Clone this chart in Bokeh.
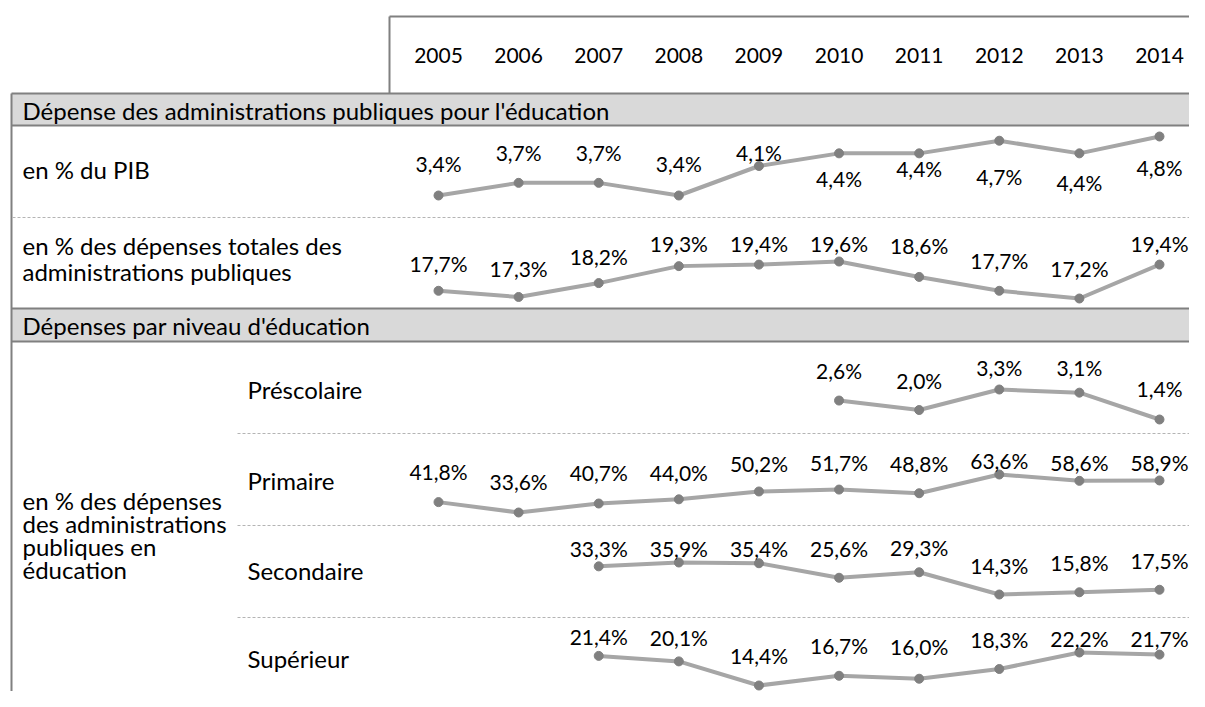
from bokeh.plotting import figure
from bokeh.models import Range1d, ColumnDataSource
from bokeh.embed import file_html
from bokeh.resources import INLINE
from bokeh.core.properties import value

# ---------------- data ----------------
years = [2005, 2006, 2007, 2008, 2009, 2010, 2011, 2012, 2013, 2014]
year_labels = [str(y) for y in years]

pib = [3.4, 3.7, 3.7, 3.4, 4.1, 4.4, 4.4, 4.7, 4.4, 4.8]
dep_totales = [17.7, 17.3, 18.2, 19.3, 19.4, 19.6, 18.6, 17.7, 17.2, 19.4]
prescolaire = [None, None, None, None, None, 2.6, 2.0, 3.3, 3.1, 1.4]
primaire = [41.8, 33.6, 40.7, 44.0, 50.2, 51.7, 48.8, 63.6, 58.6, 58.9]
secondaire = [None, None, 33.3, 35.9, 35.4, 25.6, 29.3, 14.3, 15.8, 17.5]
superieur = [None, None, 21.4, 20.1, 14.4, 16.7, 16.0, 18.3, 22.2, 21.7]

section_titles = ["Dépense des administrations publiques pour l'éducation",
                  "Dépenses par niveau d'éducation"]
row_pib = "en % du PIB"
row_tot = ["en % des dépenses totales des", "administrations publiques"]
row_niv = ["en % des dépenses", "des administrations", "publiques en", "éducation"]
level_names = ["Préscolaire", "Primaire", "Secondaire", "Supérieur"]

# ---------------- layout / style ----------------
W, H = 1189, 691
FONT = value("Lato")
FS_TXT = "24px"
FS_NUM = "21px"
LINE_C = "#a6a6a6"
DOT_C = "#808080"
BORDER_C = "#808080"
DASH_C = "#b4b4b4"
BAR_C = "#d9d9d9"

# pixel position of first and last year column
X_FIRST, X_LAST = 438, 1159

# per row: values, (y of min value, y of max value), label offsets (px, +down)
rows = [
    (pib, (195, 136), [-32, -30, -30, -32, -14, 25, 15, 36, 29, 31]),
    (dep_totales, (298, 261), [-27, -28, -27, -23, -21, -18, -31, -30, -30, -21]),
    (prescolaire, (419, 389), [0, 0, 0, 0, 0, -30, -30, -22, -25, -31]),
    (primaire, (512, 474), [-31, -31, -31, -27, -28, -27, -30, -14, -18, -18]),
    (secondaire, (594, 562), [0, 0, -18, -14, -15, -29, -25, -29, -30, -29]),
    (superieur, (685, 652), [0, 0, -19, -24, -30, -30, -32, -30, -14, -16]),
]

p = figure(width=W, height=H, output_backend="svg", toolbar_location=None,
           x_range=Range1d(0, W), y_range=Range1d(H, 0),
           min_border=0, outline_line_color=None)
p.axis.visible = False
p.grid.visible = False
p.background_fill_color = "white"
p.border_fill_color = "white"

# year scale (library range mapping the years onto the columns)
ppy = (X_LAST - X_FIRST) / (years[-1] - years[0])
ys0 = years[0] - X_FIRST / ppy
p.extra_x_ranges = {"yr": Range1d(ys0, ys0 + W / ppy)}

# ---------------- table frame ----------------
RIGHT = W
LEFT = 11
# header box
p.segment(x0=[389, 389], y0=[16, 16], x1=[RIGHT, 389], y1=[16, 93],
          line_color=BORDER_C, line_width=2)
# section bars
for (top, bot) in [(93, 125), (308, 341)]:
    p.quad(left=LEFT, right=RIGHT, top=top, bottom=bot, fill_color=BAR_C, line_color=None)
    p.segment(x0=[LEFT, LEFT], y0=[top, bot], x1=[RIGHT, RIGHT], y1=[top, bot],
              line_color=BORDER_C, line_width=2)
# left border
p.segment(x0=[LEFT], y0=[93], x1=[LEFT], y1=[H], line_color=BORDER_C, line_width=2)
# dashed separators
p.segment(x0=[LEFT + 1, 237, 237, 237], y0=[217, 433, 525, 617],
          x1=[RIGHT] * 4, y1=[217, 433, 525, 617],
          line_color=DASH_C, line_width=1, line_dash="3 2")

# year header labels
p.text(x=years, y=[55] * len(years), text=year_labels, x_range_name="yr",
       text_font=FONT, text_font_size=FS_NUM, text_align="center",
       text_baseline="middle", text_color="black")

# section titles
p.text(x=[22, 22], y=[110, 325], text=section_titles, text_font=FONT,
       text_font_size=FS_TXT, text_align="left", text_baseline="middle", text_color="black")
# row titles
p.text(x=[22, 22, 22], y=[169, 245, 271], text=[row_pib] + row_tot, text_font=FONT,
       text_font_size=FS_TXT, text_align="left", text_baseline="middle", text_color="black")
p.text(x=[22] * 4, y=[500, 523, 546, 569], text=row_niv, text_font=FONT,
       text_font_size=FS_TXT, text_align="left", text_baseline="middle", text_color="black")
p.text(x=[247] * 4, y=[389, 480, 570, 658], text=level_names, text_font=FONT,
       text_font_size=FS_TXT, text_align="left", text_baseline="middle", text_color="black")

# ---------------- sparklines ----------------
for i, (vals, (py_min, py_max), offs) in enumerate(rows):
    xs = [y for y, v in zip(years, vals) if v is not None]
    vs = [v for v in vals if v is not None]
    ds = [d for d, v in zip(offs, vals) if v is not None]
    vmin, vmax = min(vs), max(vs)
    k = (vmax - vmin) / (py_min - py_max)          # units per pixel
    start = vmin - (H - py_min) * k
    name = f"r{i}"
    p.extra_y_ranges[name] = Range1d(start, start + H * k)
    src = ColumnDataSource(dict(
        x=xs, y=vs, dy=ds,
        lab=[f"{v:.1f}".replace(".", ",") + "%" for v in vs]))
    p.line("x", "y", source=src, x_range_name="yr", y_range_name=name,
           line_color=LINE_C, line_width=4)
    p.scatter("x", "y", source=src, x_range_name="yr", y_range_name=name,
              size=9, fill_color=DOT_C, line_color=DOT_C)
    p.text("x", "y", text="lab", source=src, x_range_name="yr", y_range_name=name,
           y_offset="dy", text_font=FONT, text_font_size=FS_NUM, text_align="center",
           text_baseline="middle", text_color="black")

open("out.html", "w").write(file_html(p, INLINE))
